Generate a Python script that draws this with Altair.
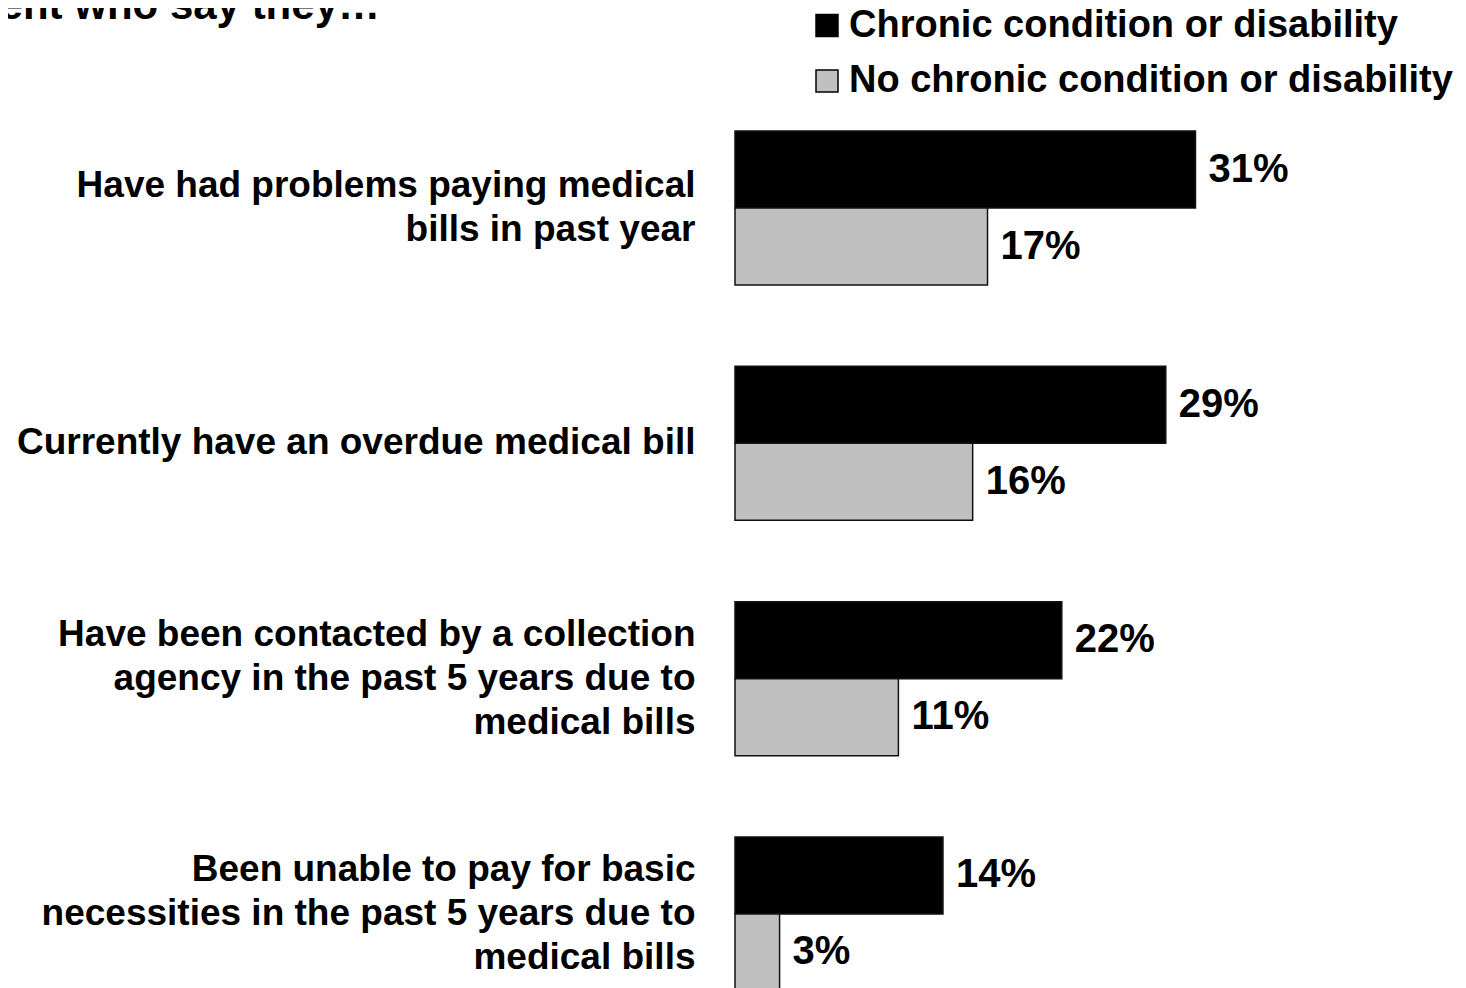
import altair as alt
import pandas as pd

# ---- data ----
categories = [
    "Have had problems paying medical|bills in past year",
    "Currently have an overdue medical bill",
    "Have been contacted by a collection|agency in the past 5 years due to|medical bills",
    "Been unable to pay for basic|necessities in the past 5 years due to|medical bills",
]
series = ["Chronic condition or disability", "No chronic condition or disability"]
chronic = [31, 29, 22, 14]
no_chronic = [17, 16, 11, 3]
colors = ["#000000", "#c0c0c0"]
title_text = ["Percent who say they\u2026"]

rows = []
for i, c in enumerate(categories):
    rows.append({"category": c, "group": series[0], "value": chronic[i]})
    rows.append({"category": c, "group": series[1], "value": no_chronic[i]})
df = pd.DataFrame(rows)
df["label"] = df["value"].astype(str) + "%"
title_df = pd.DataFrame({"t": title_text})

FONT = "Liberation Sans, Arial, Helvetica, sans-serif"

y_enc = alt.Y(
    "category:N",
    sort=categories,
    scale=alt.Scale(paddingInner=0.3455, paddingOuter=0, range=[0, 860]),
    axis=alt.Axis(
        title=None, domain=False, ticks=False, labelPadding=40,
        labelFont=FONT, labelFontSize=37, labelFontWeight="bold",
        labelColor="black", labelAlign="right", labelBaseline="middle",
        labelLineHeight=44, labelLimit=800, labelOverlap=False,
        labelExpr="split(datum.label, '|')",
        labelOffset={
            "condition": [
                {"test": "length(split(datum.value, '|')) == 3", "value": -44},
                {"test": "length(split(datum.value, '|')) == 2", "value": -22},
            ],
            "value": 0,
        },
    ),
)
yoff = alt.YOffset("group:N", sort=series, scale=alt.Scale(paddingInner=0, paddingOuter=0))
x_enc = alt.X("value:Q", scale=alt.Scale(domain=[0, 48], nice=False, zero=True), axis=None)

bars = alt.Chart(df).mark_bar(stroke="#111111", strokeWidth=1.5).encode(
    x=x_enc,
    y=y_enc,
    yOffset=yoff,
    color=alt.Color(
        "group:N",
        sort=series,
        scale=alt.Scale(domain=series, range=colors),
        legend=alt.Legend(
            title=None, orient="none", legendX=73, legendY=-124.5,
            direction="vertical", symbolType="square", symbolSize=484,
            symbolStrokeColor="black", symbolStrokeWidth=1.5,
            labelFont=FONT, labelFontSize=38, labelFontWeight="bold",
            labelColor="black", labelOffset=3, rowPadding=17.5, padding=0,
            labelLimit=800,
        ),
    ),
)

texts = alt.Chart(df).mark_text(
    align="left", baseline="middle", dx=13, font=FONT, fontSize=40,
    fontWeight="bold", color="black",
).encode(x=x_enc, y=y_enc, yOffset=yoff, text="label:N")

title_mark = alt.Chart(title_df).mark_text(
    align="right", baseline="alphabetic", font=FONT, fontSize=42,
    fontWeight="bold", color="black",
).encode(x=alt.value(-355), y=alt.value(-112), text="t:N")

chart = (
    alt.layer(bars, texts, title_mark)
    .properties(
        width=713,
        height=880,
        background="white",
        autosize=alt.AutoSizeParams(type="none"),
        padding={"left": 727, "top": 123, "right": 10, "bottom": 0},
    )
    .configure_view(stroke=None)
)

chart.save("out.html", embed_options={"renderer": "svg", "actions": False})
